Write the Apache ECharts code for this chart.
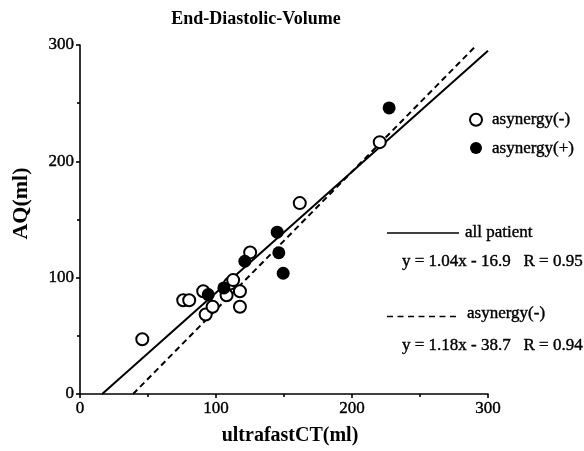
<!DOCTYPE html>
<html>
<head>
<meta charset="utf-8">
<script src="https://cdn.jsdelivr.net/npm/echarts@6/dist/echarts.min.js"></script>
<style>html,body{margin:0;padding:0;background:#fff}#c{width:584px;height:451px}</style>
</head>
<body>
<div id="c"></div>
<script>
var titleText = 'End-Diastolic-Volume';
var xName = 'ultrafastCT(ml)';
var yName = 'AQ(ml)';
var openName = 'asynergy(-)';
var filledName = 'asynergy(+)';
var openPoints = [[45.8,47.0],[75.9,80.6],[80.3,80.6],[90.6,88.3],[92.4,68.4],[97.5,75.0],[107.8,84.9],[110.2,94.9],[112.6,97.9],[117.6,88.3],[117.6,75.0],[125.1,121.7],[161.6,164.1],[220.4,216.5]];
var filledPoints = [[94.3,85.5],[105.8,91.2],[121.2,114.1],[145.0,139.1],[146.2,121.4],[149.4,103.8],[227.3,245.9]];
var allLine = [[16.3,0],[300,295.1]];
var negLine = [[39,0],[290,298]];
var allLabel = 'all patient';
var allEq = 'y = 1.04x - 16.9   R = 0.95';
var negLabel = 'asynergy(-)';
var negEq = 'y = 1.18x - 38.7   R = 0.94';

var F = '"Liberation Serif", "Times New Roman", serif';
var chart = echarts.init(document.getElementById('c'));
var axisCommon = {
  min: 0, max: 300, interval: 100,
  nameLocation: 'middle',
  axisLine: {lineStyle: {color: '#000', width: 1.6}},
  axisTick: {show: true, inside: false, length: 4, lineStyle: {color: '#000', width: 1.6}},
  minorTick: {show: true, splitNumber: 2, length: 3, lineStyle: {color: '#000', width: 1.6}},
  axisLabel: {color: '#000', fontFamily: F, fontSize: 17, margin: 6, textBorderColor: '#000', textBorderWidth: 0.4},
  splitLine: {show: false},
  minorSplitLine: {show: false}
};
var txt = function (s, x, y) {
  return {type: 'text', x: x, y: y, style: {text: s, font: '17px ' + F, fill: '#000', verticalAlign: 'middle', stroke: '#000', lineWidth: 0.4}};
};
chart.setOption({
  animation: false,
  backgroundColor: '#fff',
  title: {text: titleText, left: 251, top: 5, textAlign: 'center',
    textStyle: {fontFamily: F, fontSize: 18, fontWeight: 'bold', color: '#000'}},
  grid: {left: 80, right: 96, top: 45, bottom: 55},
  legend: {
    data: [openName, filledName], orient: 'vertical', left: 464, top: 106,
    itemWidth: 12, itemHeight: 12, itemGap: 11,
    textStyle: {fontFamily: F, fontSize: 17, color: '#000', padding: [0,0,0,5], textBorderColor: '#000', textBorderWidth: 0.4}
  },
  xAxis: Object.assign({}, axisCommon, {type: 'value', name: xName, nameGap: 32,
    nameTextStyle: {color: '#000', fontFamily: F, fontSize: 20, fontWeight: 'bold', padding: [0,0,0,12]}}),
  yAxis: Object.assign({}, axisCommon, {type: 'value', name: yName, nameGap: 48,
    nameTextStyle: {color: '#000', fontFamily: F, fontSize: 22, fontWeight: 'bold', padding: [0,0,0,32]}}),
  series: [
    {type: 'line', data: allLine, symbol: 'none', lineStyle: {color: '#000', width: 2}, z: 1, silent: true},
    {type: 'line', data: negLine, symbol: 'none', lineStyle: {color: '#000', width: 2, type: [6,4]}, z: 1, silent: true},
    {name: openName, type: 'scatter', data: openPoints, symbol: 'circle', symbolSize: 12,
      itemStyle: {color: '#fff', borderColor: '#000', borderWidth: 2, opacity: 1}, z: 3},
    {name: filledName, type: 'scatter', data: filledPoints, symbol: 'circle', symbolSize: 13,
      itemStyle: {color: '#000', borderColor: '#000', borderWidth: 0, opacity: 1}, z: 4}
  ],
  graphic: [
    {type: 'line', shape: {x1: 387, y1: 233, x2: 459, y2: 233}, style: {stroke: '#000', lineWidth: 1.6}},
    txt(allLabel, 465, 233),
    txt(allEq, 402, 262),
    {type: 'line', shape: {x1: 387, y1: 316.5, x2: 460, y2: 316.5}, style: {stroke: '#000', lineWidth: 1.6, lineDash: [6,4.5]}},
    txt(negLabel, 467, 314),
    txt(negEq, 402, 346)
  ]
});
</script>
</body>
</html>
